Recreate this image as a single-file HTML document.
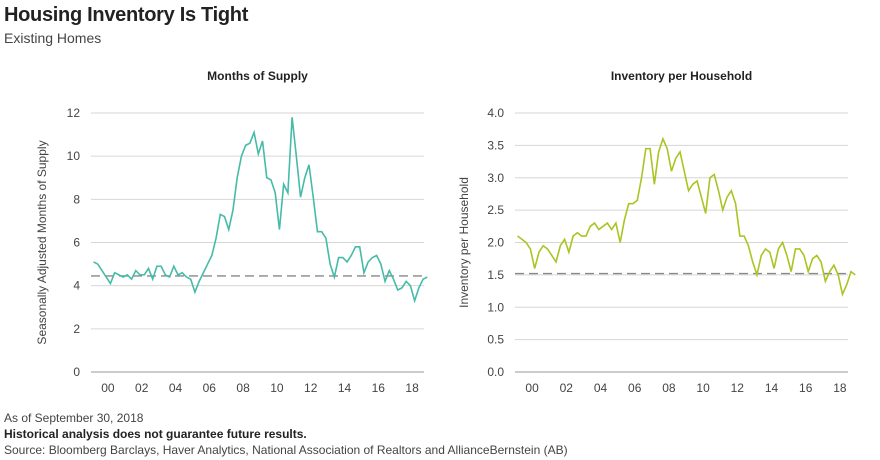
<!DOCTYPE html>
<html><head><meta charset="utf-8"><style>
body{margin:0;width:880px;height:460px;background:#fff;font-family:"Liberation Sans",sans-serif;color:#333;overflow:hidden;position:relative}
.t{position:absolute;white-space:nowrap}
</style></head><body>
<div class="t" style="left:4px;top:4px;font-size:20px;font-weight:bold;color:#222;letter-spacing:-0.3px">Housing Inventory Is Tight</div>
<div class="t" style="left:4px;top:30px;font-size:14px;color:#444">Existing Homes</div>
<div class="t" style="left:4px;top:411px;font-size:12px;color:#444">As of September 30, 2018</div>
<div class="t" style="left:4px;top:427px;font-size:12px;font-weight:bold;color:#222">Historical analysis does not guarantee future results.</div>
<div class="t" style="left:4px;top:443px;font-size:12px;color:#444">Source: Bloomberg Barclays, Haver Analytics, National Association of Realtors and AllianceBernstein (AB)</div>
<svg id="svg" width="880" height="460" style="position:absolute;left:0;top:0"></svg>
<script>
const yearLabels=["00","02","04","06","08","10","12","14","16","18"];
const leftTicks=[0,2,4,6,8,10,12];
const rightTicks=["0.0","0.5","1.0","1.5","2.0","2.5","3.0","3.5","4.0"];
const startYear=1999;
const step=0.25;
const monthsSupply=[5.1,5.0,4.7,4.4,4.1,4.6,4.5,4.4,4.5,4.3,4.7,4.5,4.5,4.8,4.3,4.9,4.9,4.5,4.4,4.9,4.5,4.6,4.4,4.3,3.7,4.2,4.6,5.0,5.4,6.2,7.3,7.2,6.6,7.5,9.0,10.0,10.5,10.6,11.1,10.1,10.7,9.0,8.9,8.3,6.6,8.7,8.3,11.8,10.0,8.1,9.0,9.6,8.1,6.5,6.5,6.2,5.0,4.4,5.3,5.3,5.1,5.4,5.8,5.8,4.6,5.1,5.3,5.4,5.0,4.2,4.7,4.3,3.8,3.9,4.2,4.0,3.3,3.9,4.3,4.4];
const invPerHH=[2.1,2.05,2.0,1.9,1.6,1.85,1.95,1.9,1.8,1.7,1.95,2.05,1.85,2.1,2.15,2.1,2.1,2.25,2.3,2.2,2.25,2.3,2.2,2.3,2.0,2.35,2.6,2.6,2.65,3.0,3.45,3.45,2.9,3.4,3.6,3.45,3.1,3.3,3.4,3.1,2.8,2.9,2.95,2.7,2.45,3.0,3.05,2.8,2.5,2.7,2.8,2.6,2.1,2.1,1.95,1.7,1.5,1.8,1.9,1.85,1.6,1.9,2.0,1.8,1.55,1.9,1.9,1.8,1.55,1.75,1.8,1.7,1.4,1.55,1.65,1.5,1.2,1.35,1.55,1.5];
const leftRef=4.45, rightRef=1.52;
const svg=document.getElementById('svg');
const NS='http://www.w3.org/2000/svg';
function mk(tag,attrs,parent){const e=document.createElementNS(NS,tag);for(const k in attrs)e.setAttribute(k,attrs[k]);(parent||svg).appendChild(e);return e;}
function chart(o){
  const g=mk('g',{});
  
  
  const X=y=>o.x0+(y-1999)*o.pxYr;
  const Y=v=>o.yBot-(v-o.ymin)/(o.ymax-o.ymin)*(o.yBot-o.yTop);
  const t=mk('text',{x:(o.x0+o.x1)/2,y:80,'text-anchor':'middle','font-size':12,'font-weight':'bold',fill:'#222'},g);t.textContent=o.title;
  
  
  o.ticks.forEach((lab,i)=>{const v=o.ymin+i*o.tstep;const y=Y(v);
    const l=mk('line',{x1:o.x0,x2:o.x1,y1:y,y2:y,stroke:i==0?'#999':'#d6d6d6','stroke-width':1},g);
    
    
    const tx=mk('text',{x:o.x0-11,y:y+4,'text-anchor':'end','font-size':12,fill:'#444'},g);tx.textContent=lab;
    
    });
  yearLabels.forEach((lab,i)=>{const tx=mk('text',{x:X(2000+2*i),y:o.yBot+20,'text-anchor':'middle','font-size':12,fill:'#444'},g);tx.textContent=lab;
    
    });
  const at=mk('text',{transform:`translate(${o.axX},${(o.yTop+o.yBot)/2}) rotate(-90)`,'text-anchor':'middle','font-size':12,fill:'#444'},g);at.textContent=o.axis;
  
  
  const rl=mk('line',{x1:o.x0,x2:o.x1,y1:Y(o.ref),y2:Y(o.ref),stroke:'#888','stroke-width':1.3,'stroke-dasharray':'9,5'},g);
  
  
  const pts=o.data.map((v,i)=>X(startYear+i*step+0.15)+','+Y(v)).join(' ');
  const p=mk('polyline',{points:pts,fill:'none',stroke:o.color,'stroke-width':1.6},g);
  
  
}
chart({name:'months-of-supply-chart',title:'Months of Supply',axis:'Seasonally Adjusted Months of Supply',x0:91,x1:424,pxYr:16.9,yTop:113,yBot:372,ymin:0,ymax:12,tstep:2,ticks:leftTicks,data:monthsSupply,ref:leftRef,color:'#45bba8',axX:46});
chart({name:'inventory-per-household-chart',title:'Inventory per Household',axis:'Inventory per Household',x0:515,x1:848,pxYr:17.1,yTop:113,yBot:372,ymin:0,ymax:4,tstep:0.5,ticks:rightTicks,data:invPerHH,ref:rightRef,color:'#a8c523',axX:468});
</script>
</body></html>
